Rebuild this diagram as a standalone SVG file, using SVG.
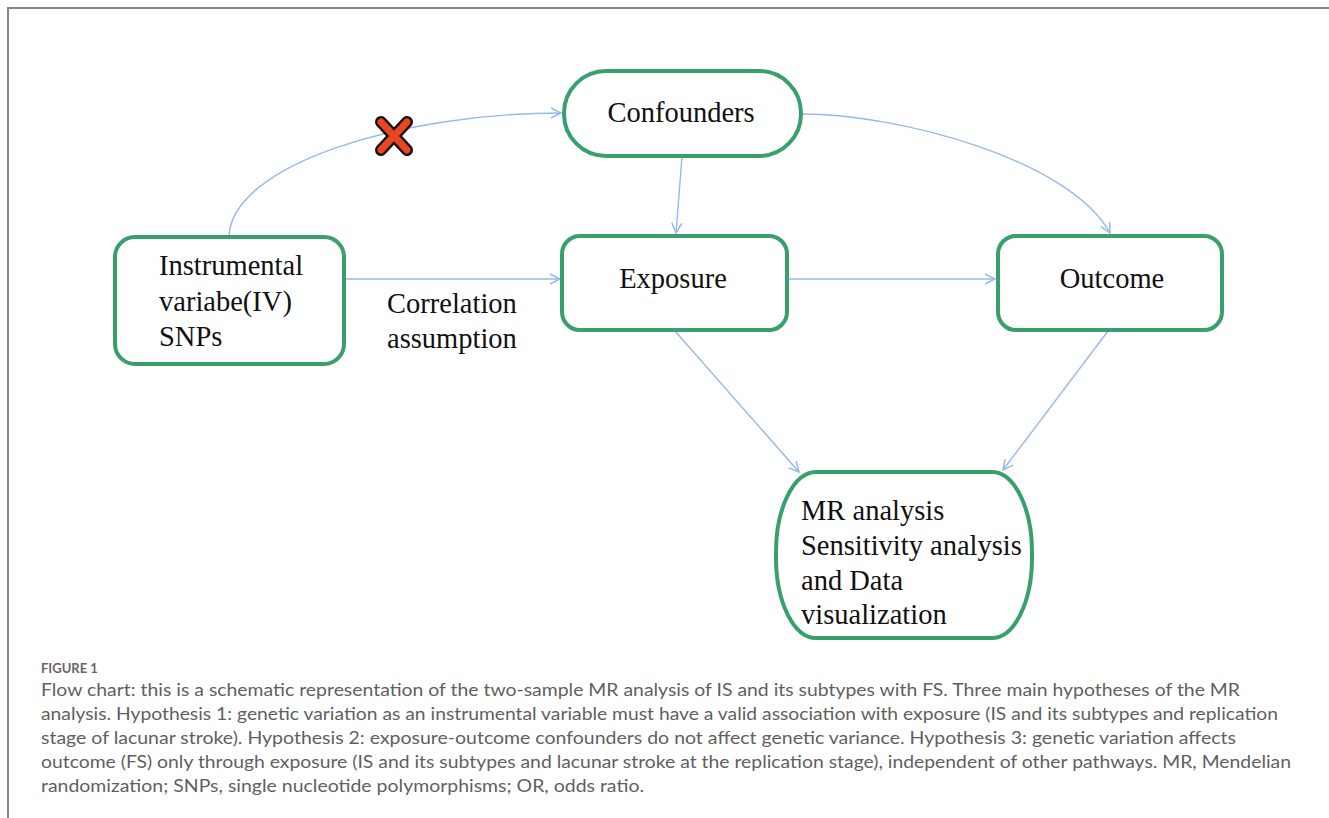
<svg xmlns="http://www.w3.org/2000/svg" width="1329" height="818" viewBox="0 0 1329 818">
<defs>
<style>
.node{fill:#fff;stroke:#37a06c;stroke-width:4}
.lbl{font-family:"Liberation Serif","Times New Roman",serif;font-size:28.5px;fill:#111}
.edge{fill:none;stroke:#94b8f0;stroke-width:1.4}
.cap{font-family:Lato,"Open Sans",sans-serif;font-size:17.5px;fill:#5f5f5f}
.fig{font-family:Lato,"Open Sans",sans-serif;font-size:13px;font-weight:bold;fill:#666}
</style>
<marker id="arr" viewBox="0 0 12 12" refX="11" refY="6" markerWidth="12" markerHeight="12" markerUnits="userSpaceOnUse" orient="auto">
<path d="M1,1 L11,6 L1,11" fill="none" stroke="#94b8f0" stroke-width="1.4"/>
</marker>
</defs>
<rect width="1329" height="818" fill="#fff"/>
<path d="M8,818 V8 H1329" fill="none" stroke="#858585" stroke-width="2"/>

<g id="connectors">
<path class="edge" d="M229,236 C232,165 400,113 561,113" marker-end="url(#arr)"/>
<path class="edge" d="M802,114 C900,114 1070,160 1110,233" marker-end="url(#arr)"/>
<path class="edge" d="M682,157 L676,233" marker-end="url(#arr)"/>
<path class="edge" d="M345,279 L560,279" marker-end="url(#arr)"/>
<path class="edge" d="M788,279 L995,279" marker-end="url(#arr)"/>
<path class="edge" d="M675,331 L799,472" marker-end="url(#arr)"/>
<path class="edge" d="M1108,331 L1003,470" marker-end="url(#arr)"/>
</g>

<g id="cross">
<path d="M381,122 L407,150 M407,122 L381,150" stroke="#111" stroke-width="12" stroke-linecap="round"/>
<path d="M381,122 L407,150 M407,122 L381,150" stroke="#ea4422" stroke-width="7" stroke-linecap="round"/>
</g>

<g id="confounders">
<rect class="node" x="564" y="71" width="237" height="85" rx="42" ry="42"/>
<text class="lbl" x="681" y="122" text-anchor="middle">Confounders</text>
</g>

<g id="iv">
<rect class="node" x="115" y="237" width="229" height="127" rx="20" ry="20"/>
<text class="lbl" x="159" y="275">Instrumental</text>
<text class="lbl" x="159" y="311">variabe(IV)</text>
<text class="lbl" x="159" y="346">SNPs</text>
</g>

<g id="correlation-label">
<text class="lbl" x="387" y="313">Correlation</text>
<text class="lbl" x="387" y="348">assumption</text>
</g>

<g id="exposure">
<rect class="node" x="562" y="236" width="225" height="94" rx="18" ry="18"/>
<text class="lbl" x="673" y="288" text-anchor="middle">Exposure</text>
</g>

<g id="outcome">
<rect class="node" x="998" y="236" width="224" height="94" rx="18" ry="18"/>
<text class="lbl" x="1112" y="288" text-anchor="middle">Outcome</text>
</g>

<g id="mr">
<rect class="node" x="776" y="472" width="256" height="166" rx="40" ry="80"/>
<text class="lbl" x="801" y="520">MR analysis</text>
<text class="lbl" x="801" y="555">Sensitivity analysis</text>
<text class="lbl" x="801" y="590">and Data</text>
<text class="lbl" x="801" y="624">visualization</text>
</g>

<g id="caption">
<text class="fig" x="41" y="673">FIGURE 1</text>
<text class="cap" x="41" y="696" textLength="1199" lengthAdjust="spacingAndGlyphs">Flow chart: this is a schematic representation of the two-sample MR analysis of IS and its subtypes with FS. Three main hypotheses of the MR</text>
<text class="cap" x="41" y="720" textLength="1237" lengthAdjust="spacingAndGlyphs">analysis. Hypothesis 1: genetic variation as an instrumental variable must have a valid association with exposure (IS and its subtypes and replication</text>
<text class="cap" x="41" y="744" textLength="1195" lengthAdjust="spacingAndGlyphs">stage of lacunar stroke). Hypothesis 2: exposure-outcome confounders do not affect genetic variance. Hypothesis 3: genetic variation affects</text>
<text class="cap" x="41" y="768" textLength="1250" lengthAdjust="spacingAndGlyphs">outcome (FS) only through exposure (IS and its subtypes and lacunar stroke at the replication stage), independent of other pathways. MR, Mendelian</text>
<text class="cap" x="41" y="792" textLength="603" lengthAdjust="spacingAndGlyphs">randomization; SNPs, single nucleotide polymorphisms; OR, odds ratio.</text>
</g>
</svg>
